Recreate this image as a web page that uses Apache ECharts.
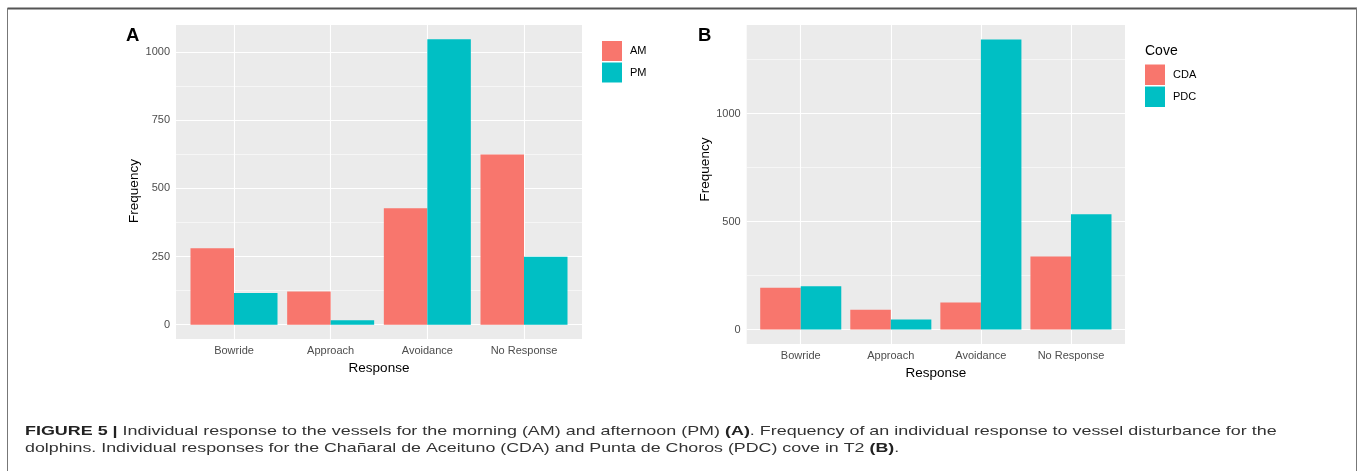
<!DOCTYPE html>
<html>
<head>
<meta charset="utf-8">
<script src="https://cdn.jsdelivr.net/npm/echarts@6/dist/echarts.min.js"></script>
<style>
html,body{margin:0;padding:0;background:#fff;}
#c{width:1360px;height:471px;}
</style>
</head>
<body>
<div id="c"></div>
<script>
// ---- data ----
const categories = ['Bowride', 'Approach', 'Avoidance', 'No Response'];
const amValues = [280, 122, 427, 624];
const pmValues = [116, 16, 1046, 249];
const cdaValues = [193, 91, 125, 338];
const pdcValues = [200, 46, 1343, 534];
const ticksA = [0, 250, 500, 750, 1000];
const minorA = [125, 375, 625, 875];
const ticksB = [0, 500, 1000];
const minorB = [250, 750, 1250];
const catIdx = [0, 1, 2, 3];

const FONT = '"Liberation Sans", Arial, Helvetica, sans-serif';
const RED = '#F8766D', TEAL = '#00BFC4';

function pairs(vals){ return vals.map((v,i)=>[i, v]); }
function barRender(off){
  return function(params, api){
    const x = api.value(0), v = api.value(1);
    const a = api.coord([x + off, 0]);
    const b = api.coord([x + off + 0.45, v]);
    return {type:'rect', shape:{x:a[0], y:b[1], width:b[0]-a[0], height:a[1]-b[1]}, style: api.style()};
  };
}
function gridLines(major, minor){
  const d = [];
  major.forEach(v=>d.push({yAxis:v, lineStyle:{width:1.1, color:'#fff'}}));
  minor.forEach(v=>d.push({yAxis:v, lineStyle:{width:0.55, color:'#fff'}}));
  catIdx.forEach(v=>d.push({xAxis:v, lineStyle:{width:1.1, color:'#fff'}}));
  return {silent:true, symbol:['none','none'], label:{show:false}, z:1,
          lineStyle:{type:'solid'}, emphasis:{disabled:true}, data:d, animation:false};
}
function yRange(a, b){
  const m = Math.max(...a, ...b);
  return {min: -0.05*m, max: 1.05*m};
}
const rA = yRange(amValues, pmValues), rB = yRange(cdaValues, pdcValues);

function xAxisCfg(gi){
  return {gridIndex:gi, type:'value', min:-0.6, max:3.6,
    axisLine:{show:false}, splitLine:{show:false},
    axisTick:{show:true, customValues:catIdx, length:3, lineStyle:{color:'#333', width:1}},
    axisLabel:{customValues:catIdx, formatter:v=>categories[Math.round(v)], color:'#4D4D4D', fontSize:11, fontFamily:FONT, margin:6},
    name:'Response', nameLocation:'middle', nameGap: gi===0 ? 21.5 : 19,
    nameTextStyle:{color:'#000', fontSize:13.5, fontFamily:FONT}};
}
function yAxisCfg(gi, r, ticks, pad){
  return {gridIndex:gi, type:'value', min:r.min, max:r.max,
    axisLine:{show:false}, splitLine:{show:false},
    axisTick:{show:true, customValues:ticks, length:3, lineStyle:{color:'#333', width:1}},
    axisLabel:{customValues:ticks, formatter:v=>String(v), color:'#4D4D4D', fontSize:11, fontFamily:FONT, margin:6},
    name:'Frequency', nameLocation:'middle', nameGap: gi===0 ? 35 : 32, nameRotate:90,
    nameTextStyle:{color:'#000', fontSize:13.5, fontFamily:FONT, padding:pad}};
}

const capRich = {b:{fontWeight:'bold', fontSize:13, fontFamily:FONT, fill:'#222'}};

const chart = echarts.init(document.getElementById('c'), null, {renderer:'canvas'});
chart.setOption({
  animation:false,
  backgroundColor:'#fff',
  grid:[
    {left:176, width:406, top:25, height:314, show:true, backgroundColor:'#EBEBEB', borderWidth:0, containLabel:false},
    {left:746.7, width:378.3, top:25, height:319, show:true, backgroundColor:'#EBEBEB', borderWidth:0, containLabel:false}
  ],
  xAxis:[xAxisCfg(0), xAxisCfg(1)],
  yAxis:[yAxisCfg(0, rA, ticksA, [0,18,0,0]), yAxisCfg(1, rB, ticksB, [0,0,0,30])],
  legend:[
    {data:['AM','PM'], left:597, top:36, orient:'vertical', icon:'rect', itemWidth:20, itemHeight:20, itemGap:1.5,
     textStyle:{fontSize:11, fontFamily:FONT, color:'#000', padding:[0,0,0,3]}, selectedMode:false},
    {data:['CDA','PDC'], left:1140, top:59.5, orient:'vertical', icon:'rect', itemWidth:20, itemHeight:20.5, itemGap:1.5,
     textStyle:{fontSize:11, fontFamily:FONT, color:'#000', padding:[0,0,0,3]}, selectedMode:false}
  ],
  series:[
    {name:'AM', type:'custom', xAxisIndex:0, yAxisIndex:0, z:3, itemStyle:{color:RED},
     renderItem:barRender(-0.45), encode:{x:0, y:1}, data:pairs(amValues), markLine:gridLines(ticksA, minorA)},
    {name:'PM', type:'custom', xAxisIndex:0, yAxisIndex:0, z:3, itemStyle:{color:TEAL},
     renderItem:barRender(0), encode:{x:0, y:1}, data:pairs(pmValues)},
    {name:'CDA', type:'custom', xAxisIndex:1, yAxisIndex:1, z:3, itemStyle:{color:RED},
     renderItem:barRender(-0.45), encode:{x:0, y:1}, data:pairs(cdaValues), markLine:gridLines(ticksB, minorB)},
    {name:'PDC', type:'custom', xAxisIndex:1, yAxisIndex:1, z:3, itemStyle:{color:TEAL},
     renderItem:barRender(0), encode:{x:0, y:1}, data:pairs(pdcValues)}
  ],
  graphic:[
    {type:'line', shape:{x1:7.5, y1:8.5, x2:1357, y2:8.5}, style:{stroke:'#555', lineWidth:1.8}, silent:true},
    {type:'line', shape:{x1:7.5, y1:8, x2:7.5, y2:471}, style:{stroke:'#777', lineWidth:1}, silent:true},
    {type:'line', shape:{x1:1356.5, y1:8, x2:1356.5, y2:471}, style:{stroke:'#777', lineWidth:1}, silent:true},
    {type:'text', x:126, y:35.5, style:{text:'A', fontSize:18.5, fontWeight:'bold', fontFamily:FONT, fill:'#000', verticalAlign:'middle'}},
    {type:'text', x:698, y:35.5, style:{text:'B', fontSize:18.5, fontWeight:'bold', fontFamily:FONT, fill:'#000', verticalAlign:'middle'}},
    {type:'text', x:1145, y:51, style:{text:'Cove', fontSize:14, fontFamily:FONT, fill:'#000', verticalAlign:'middle'}},
    {type:'text', x:25, y:431.5, scaleX:1.378, style:{
      text:'{b|FIGURE 5 |} Individual response to the vessels for the morning (AM) and afternoon (PM) {b|(A)}. Frequency of an individual response to vessel disturbance for the',
      fontSize:13, fontFamily:FONT, fill:'#333', verticalAlign:'middle', rich:capRich}},
    {type:'text', x:25, y:448.5, scaleX:1.37, style:{
      text:'dolphins. Individual responses for the Chañaral de Aceituno (CDA) and Punta de Choros (PDC) cove in T2 {b|(B)}.',
      fontSize:13, fontFamily:FONT, fill:'#333', verticalAlign:'middle', rich:capRich}}
  ]
});
</script>
</body>
</html>
